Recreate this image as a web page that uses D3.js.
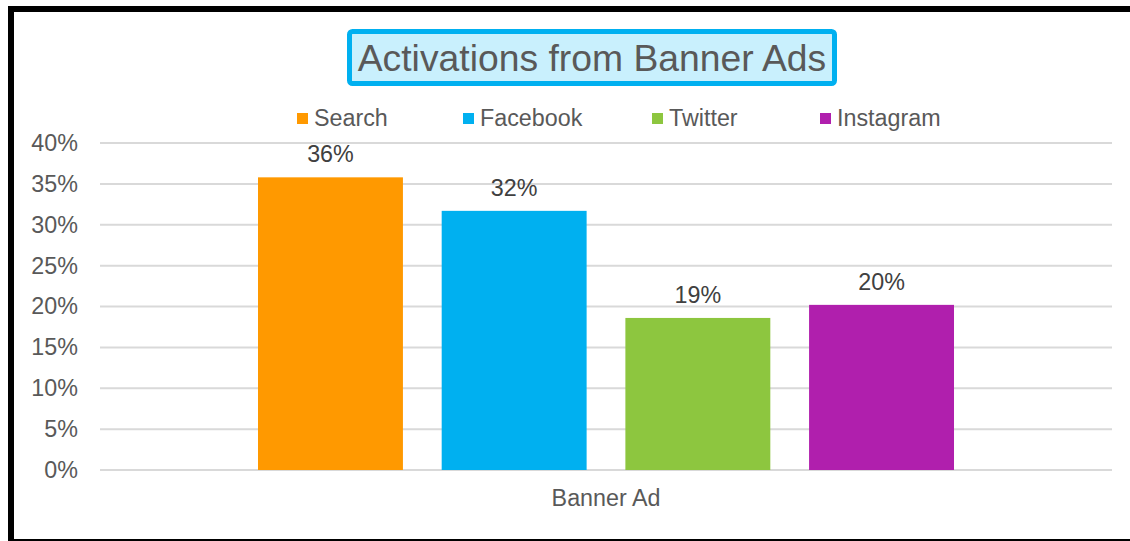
<!DOCTYPE html>
<html>
<head>
<meta charset="utf-8">
<script src="https://cdn.jsdelivr.net/npm/d3@7"></script>
<style>
  html, body { margin: 0; padding: 0; background: #fff; }
  svg { display: block; font-family: "Liberation Sans", Arial, sans-serif; }
</style>
</head>
<body>
<svg id="chart" width="1130" height="541"></svg>
<script>
// data
const categories = ["Banner Ad"];
const seriesNames = ["Search", "Facebook", "Twitter", "Instagram"];
const seriesValues = [0.358, 0.317, 0.186, 0.202];
const seriesColors = ["#ff9900", "#00b0f0", "#8dc63f", "#b01fad"];
const yTicks = [0, 0.05, 0.10, 0.15, 0.20, 0.25, 0.30, 0.35, 0.40];
const titleText = "Activations from Banner Ads";

const svg = d3.select("#chart");
const plot = { left: 100, right: 1112, top: 143, bottom: 470 };
const smallFont = "23.3px";

// outer frame (partly cut off at right/bottom)
svg.append("rect")
    .attr("x", 11).attr("y", 9)
    .attr("width", 1135).attr("height", 533)
    .attr("fill", "none")
    .attr("stroke", "#000")
    .attr("stroke-width", 6);

// scales
const y = d3.scaleLinear().domain([0, 0.4]).range([plot.bottom, plot.top]);
const x0 = d3.scaleBand().domain(categories)
    .range([plot.left, plot.right])
    .paddingInner(0).paddingOuter(0.227);
const x1 = d3.scaleBand().domain(seriesNames)
    .range([0, x0.bandwidth()])
    .paddingInner(0.211).paddingOuter(0);

// gridlines
svg.append("g")
  .selectAll("line")
  .data(yTicks)
  .join("line")
    .attr("x1", plot.left).attr("x2", plot.right)
    .attr("y1", d => y(d)).attr("y2", d => y(d))
    .attr("stroke", "#d9d9d9")
    .attr("stroke-width", 2);

// y axis labels
const yAxis = svg.append("g")
    .attr("transform", `translate(${plot.left},0)`)
    .call(d3.axisLeft(y).tickValues(yTicks).tickFormat(d3.format(".0%")).tickSize(0).tickPadding(22));
yAxis.select(".domain").remove();
yAxis.selectAll("text")
    .attr("fill", "#595959")
    .style("font-size", smallFont)
    .style("font-family", "Liberation Sans, Arial, sans-serif");

// bars
const groups = svg.append("g")
  .selectAll("g")
  .data(categories)
  .join("g")
    .attr("transform", d => `translate(${x0(d)},0)`);

groups.selectAll("rect")
  .data(seriesNames.map((s, i) => ({ name: s, value: seriesValues[i], color: seriesColors[i] })))
  .join("rect")
    .attr("x", d => x1(d.name))
    .attr("y", d => y(d.value))
    .attr("width", x1.bandwidth())
    .attr("height", d => y(0) - y(d.value))
    .attr("fill", d => d.color);

// data labels
groups.selectAll("text.label")
  .data(seriesNames.map((s, i) => ({ name: s, value: seriesValues[i] })))
  .join("text")
    .attr("class", "label")
    .attr("x", d => x1(d.name) + x1.bandwidth() / 2)
    .attr("y", d => y(d.value) - 15)
    .attr("text-anchor", "middle")
    .attr("fill", "#404040")
    .style("font-size", smallFont)
    .text(d => d3.format(".0%")(d.value));

// x axis category label
svg.append("g")
  .selectAll("text")
  .data(categories)
  .join("text")
    .attr("x", d => x0(d) + x0.bandwidth() / 2)
    .attr("y", 506)
    .attr("text-anchor", "middle")
    .attr("fill", "#595959")
    .style("font-size", smallFont)
    .text(d => d);

// legend
const legendX = [297, 463, 652, 820];
const legend = svg.append("g")
  .selectAll("g")
  .data(seriesNames)
  .join("g")
    .attr("transform", (d, i) => `translate(${legendX[i]},113)`);
legend.append("rect")
    .attr("width", 11).attr("height", 11)
    .attr("fill", (d, i) => seriesColors[i]);
legend.append("text")
    .attr("x", 17).attr("y", 13)
    .attr("fill", "#595959")
    .style("font-size", smallFont)
    .text(d => d);

// title
svg.append("rect")
    .attr("x", 349.5).attr("y", 31.5)
    .attr("width", 485).attr("height", 52)
    .attr("rx", 3)
    .attr("fill", "#c9f0fd")
    .attr("stroke", "#00b0f0")
    .attr("stroke-width", 5);
svg.append("text")
    .attr("x", 592).attr("y", 71)
    .attr("text-anchor", "middle")
    .attr("fill", "#595959")
    .style("font-size", "37.3px")
    .text(titleText);
</script>
</body>
</html>
